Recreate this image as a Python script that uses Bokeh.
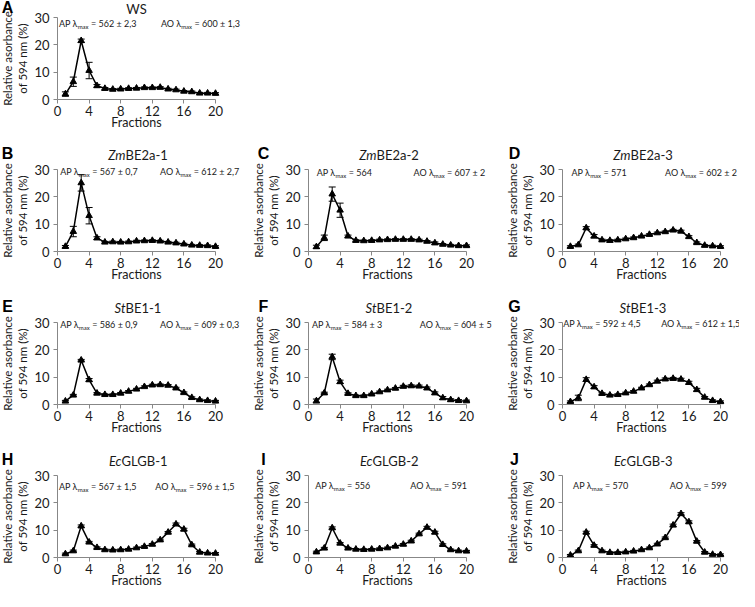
from bokeh.plotting import figure
from bokeh.models import Range1d, Label, Whisker, TeeHead, ColumnDataSource, FixedTicker
from bokeh.layouts import column, row
from bokeh.embed import file_html
from bokeh.resources import INLINE

# ---------------- data ----------------
fractions = list(range(1, 21))
x_ticks = [0, 4, 8, 12, 16, 20]
y_ticks = [0, 10, 20, 30]
y_label = "Relative asorbance\nof 594 nm (%)"
x_label = "Fractions"

ws = [2.0, 6.5, 21.5, 10.6, 5.0, 4.0, 3.7, 3.8, 4.0, 4.1, 4.3, 4.3, 4.4, 3.8, 3.5, 3.0, 2.8, 2.3, 2.3, 2.2]
ws_err = [0.8, 1.7, 0.6, 3.0, 0.5, 0.4, 0.3, 0.3, 0.3, 0.3, 0.3, 0.3, 0.3, 0.3, 0.3, 0.3, 0.3, 0.3, 0.3, 0.3]

zm_be2a_1 = [1.8, 7.3, 25.1, 13.1, 4.9, 3.4, 3.5, 3.4, 3.5, 3.8, 3.9, 4.0, 3.8, 3.4, 3.1, 2.7, 2.3, 2.2, 2.1, 1.8]
zm_be2a_1_err = [0.4, 1.9, 3.0, 3.0, 0.5, 0.3, 0.3, 0.3, 0.3, 0.3, 0.3, 0.3, 0.3, 0.3, 0.3, 0.3, 0.3, 0.3, 0.3, 0.3]

zm_be2a_2 = [1.7, 5.0, 21.0, 15.1, 5.6, 4.0, 3.9, 4.0, 4.2, 4.3, 4.4, 4.4, 4.4, 4.2, 3.7, 3.1, 2.6, 2.3, 2.1, 2.1]
zm_be2a_2_err = [0.6, 1.0, 2.6, 2.6, 0.4, 0.3, 0.3, 0.3, 0.3, 0.3, 0.3, 0.3, 0.3, 0.3, 0.3, 0.4, 0.3, 0.3, 0.3, 0.3]

zm_be2a_3 = [1.8, 2.4, 8.6, 5.6, 4.2, 4.0, 4.2, 4.6, 5.0, 5.6, 6.2, 6.8, 7.2, 7.8, 7.4, 5.4, 3.2, 2.2, 2.0, 1.8]
zm_be2a_3_err = [0.3, 0.3, 0.5, 0.6, 0.3, 0.3, 0.3, 0.3, 0.3, 0.3, 0.3, 0.3, 0.3, 0.3, 0.4, 0.4, 0.3, 0.3, 0.3, 0.3]

st_be1_1 = [1.2, 3.4, 16.2, 9.0, 4.1, 3.6, 3.6, 4.1, 4.8, 5.6, 6.5, 7.1, 7.2, 7.0, 6.0, 4.3, 2.5, 1.7, 1.4, 1.2]
st_be1_1_err = [0.3, 0.3, 0.3, 0.5, 0.3, 0.3, 0.3, 0.3, 0.3, 0.3, 0.3, 0.3, 0.3, 0.3, 0.3, 0.3, 0.3, 0.3, 0.3, 0.3]

st_be1_2 = [1.3, 4.2, 17.4, 8.3, 4.0, 3.2, 3.2, 3.8, 4.6, 5.3, 5.9, 6.6, 6.8, 6.7, 6.0, 4.2, 2.4, 1.7, 1.4, 1.3]
st_be1_2_err = [0.7, 0.3, 1.0, 0.6, 0.3, 0.3, 0.3, 0.3, 0.3, 0.3, 0.3, 0.4, 0.4, 0.4, 0.4, 0.4, 0.5, 0.4, 0.4, 0.3]

st_be1_3 = [1.0, 2.4, 9.1, 6.4, 4.0, 3.4, 3.6, 4.2, 4.8, 6.0, 7.2, 8.5, 9.3, 9.5, 9.2, 8.0, 5.4, 2.6, 1.4, 1.0]
st_be1_3_err = [0.3, 1.0, 0.7, 0.5, 0.3, 0.3, 0.3, 0.3, 0.3, 0.3, 0.3, 0.4, 0.4, 0.4, 0.4, 0.5, 0.5, 0.3, 0.3, 0.3]

ec_glgb_1 = [1.3, 2.4, 11.5, 5.6, 3.6, 2.8, 2.7, 2.8, 3.0, 3.5, 4.0, 4.8, 6.4, 9.2, 12.2, 10.3, 4.6, 1.9, 1.6, 1.5]
ec_glgb_1_err = [0.3, 0.3, 0.4, 0.3, 0.3, 0.3, 0.3, 0.3, 0.3, 0.3, 0.3, 0.3, 0.3, 0.3, 0.4, 0.4, 0.3, 0.3, 0.3, 0.3]

ec_glgb_2 = [2.0, 3.4, 10.8, 5.2, 3.4, 3.0, 2.9, 3.0, 3.2, 3.5, 4.1, 4.8, 6.0, 8.6, 11.0, 9.2, 4.7, 2.8, 2.4, 2.3]
ec_glgb_2_err = [0.3, 0.3, 0.4, 0.3, 0.3, 0.3, 0.3, 0.3, 0.3, 0.3, 0.3, 0.3, 0.3, 0.3, 0.4, 0.4, 0.3, 0.3, 0.3, 0.3]

ec_glgb_3 = [0.8, 2.4, 9.2, 4.4, 2.4, 1.8, 1.8, 2.0, 2.3, 2.8, 3.5, 4.9, 7.2, 11.8, 16.0, 13.0, 5.9, 1.9, 1.1, 1.0]
ec_glgb_3_err = [0.3, 0.3, 0.4, 0.3, 0.3, 0.3, 0.3, 0.3, 0.3, 0.3, 0.3, 0.3, 0.3, 0.4, 0.4, 0.4, 0.3, 0.3, 0.3, 0.3]

panel_letters = ["A", "B", "C", "D", "E", "F", "G", "H", "I", "J"]
title_italic = ["", "Zm", "Zm", "Zm", "St", "St", "St", "Ec", "Ec", "Ec"]
title_plain = ["WS", "BE2a-1", "BE2a-2", "BE2a-3", "BE1-1", "BE1-2", "BE1-3", "GLGB-1", "GLGB-2", "GLGB-3"]
ap_values = ["562 ± 2,3", "567 ± 0,7", "564", "571", "586 ± 0,9", "584 ± 3", "592 ± 4,5", "567 ± 1,5", "556", "570"]
ao_values = ["600 ± 1,3", "612 ± 2,7", "607 ± 2", "602 ± 2", "609 ± 0,3", "604 ± 5", "612 ± 1,5", "596 ± 1,5", "591", "599"]

series = [ws, zm_be2a_1, zm_be2a_2, zm_be2a_3, st_be1_1, st_be1_2, st_be1_3, ec_glgb_1, ec_glgb_2, ec_glgb_3]
errors = [ws_err, zm_be2a_1_err, zm_be2a_2_err, zm_be2a_3_err, st_be1_1_err, st_be1_2_err, st_be1_3_err,
          ec_glgb_1_err, ec_glgb_2_err, ec_glgb_3_err]

# ---------------- layout / style ----------------
FONT = "Lato"
PPX = 7.9            # px per fraction unit
PPY = 82 / 30        # px per % unit
col_specs = [(251, 57), (254, 57), (234, 57)]             # figure width, px from left edge to x = 0
row_specs = [(144, 17), (153, 25), (153, 25), (140, 25)]  # figure height, px from top edge to y = 30
grid = [[0], [1, 2, 3], [4, 5, 6], [7, 8, 9]]
letter_dx = [-50, -50, -45, -48, -50, -45, -48, -50, -45, -48]
head_dy = [9, 15, 15, 15, 15, 15, 15, 15, 15, 15]
title_shift = {"": 0, "Zm": -11, "St": -11, "Ec": -15}
ap_x = [0.25, 0.4, 1.1, 1.2, 0.4, 0.5, 0.15, 0.25, 0.9, 1.4]
ao_x = [13.2, 13.1, 13.4, 13.1, 13.1, 14.2, 12.6, 12.5, 13.0, 13.7]
note_dy = [6, 2, 3, 3, 2, 2, 1, 11, 10, 10]

NOTE_SIZE = 9
SUB_SIZE = 6
SUB_W = 11
SPACE_W = 2.3
LEAD_W = {"AP": 18.2, "AO": 19.4}

AXIS_GREY = "#878787"
TEXT = "#1a1a1a"


def add_lambda(p, x, dy, prefix, val):
    lead_w = LEAD_W[prefix]
    common = dict(x=x, y=30, text_font=FONT, text_color=TEXT, text_baseline="middle")
    p.add_layout(Label(text=prefix + " λ", x_offset=lead_w, y_offset=-dy, text_align="right",
                       text_font_size=f"{NOTE_SIZE}px", **common))
    p.add_layout(Label(text="max", x_offset=lead_w, y_offset=-dy - 2.5, text_align="left",
                       text_font_size=f"{SUB_SIZE}px", **common))
    p.add_layout(Label(text="= " + val, x_offset=lead_w + SUB_W + SPACE_W, y_offset=-dy, text_align="left",
                       text_font_size=f"{NOTE_SIZE}px", **common))


def make_panel(i, col, rw):
    width, left_px = col_specs[col]
    height, top_px = row_specs[rw]
    x0 = -left_px / PPX
    x1 = (width - left_px) / PPX
    y1 = 30 + top_px / PPY
    y0 = 30 - (height - top_px) / PPY
    p = figure(width=width, height=height, output_backend="svg", toolbar_location=None,
               x_range=Range1d(x0, x1), y_range=Range1d(y0, y1), min_border=0,
               background_fill_color="white", border_fill_color="white")
    p.outline_line_color = None
    p.grid.visible = False

    for ax in (p.xaxis, p.yaxis):
        ax.fixed_location = 0
        ax.axis_line_color = AXIS_GREY
        ax.major_tick_line_color = AXIS_GREY
        ax.minor_tick_line_color = None
        ax.major_tick_in = 0
        ax.major_tick_out = 4
        ax.major_label_text_font = FONT
        ax.major_label_text_font_size = "13px"
        ax.major_label_text_color = TEXT
        ax.axis_label_text_font = FONT
        ax.axis_label_text_font_style = "normal"
        ax.axis_label_text_color = TEXT
    p.xaxis.ticker = FixedTicker(ticks=x_ticks)
    p.xaxis.bounds = (0, 20)
    p.xaxis.major_label_standoff = 2
    p.xaxis.axis_label = x_label
    p.xaxis.axis_label_text_font_size = "12.5px"
    p.xaxis.axis_label_standoff = -4
    p.yaxis.ticker = FixedTicker(ticks=y_ticks)
    p.yaxis.bounds = (0, 30)
    p.yaxis.major_label_standoff = 4
    p.yaxis.axis_label = y_label
    p.yaxis.axis_label_text_font_size = "11.5px"
    p.yaxis.axis_label_text_line_height = 1.22
    p.yaxis.axis_label_standoff = 2

    vals = series[i]
    errs = errors[i]
    src = ColumnDataSource(dict(x=fractions, y=vals,
                                upper=[v + e for v, e in zip(vals, errs)],
                                lower=[v - e for v, e in zip(vals, errs)]))
    p.line("x", "y", source=src, line_color="black", line_width=1.5)
    p.add_layout(Whisker(source=src, base="x", upper="upper", lower="lower",
                         line_color="black", line_width=1,
                         upper_head=TeeHead(size=7, line_color="black", line_width=1),
                         lower_head=TeeHead(size=7, line_color="black", line_width=1)))
    p.scatter("x", "y", source=src, marker="triangle", size=6.5, color="black")

    # panel letter
    p.add_layout(Label(x=0, y=30, x_offset=letter_dx[i], y_offset=head_dy[i] + 1, text=panel_letters[i],
                       text_font="Liberation Sans", text_font_style="bold", text_font_size="16px",
                       text_color="black", text_align="center", text_baseline="middle"))
    # title (italic prefix + plain name)
    shift = title_shift[title_italic[i]]
    if title_italic[i]:
        p.add_layout(Label(x=10, y=30, x_offset=shift, y_offset=head_dy[i], text=title_italic[i],
                           text_font=FONT, text_font_style="italic", text_font_size="13px",
                           text_color=TEXT, text_align="right", text_baseline="middle"))
        p.add_layout(Label(x=10, y=30, x_offset=shift, y_offset=head_dy[i], text=title_plain[i],
                           text_font=FONT, text_font_size="13px",
                           text_color=TEXT, text_align="left", text_baseline="middle"))
    else:
        p.add_layout(Label(x=10, y=30, y_offset=head_dy[i], text=title_plain[i],
                           text_font=FONT, text_font_size="13px",
                           text_color=TEXT, text_align="center", text_baseline="middle"))

    add_lambda(p, ap_x[i], note_dy[i], "AP", ap_values[i])
    add_lambda(p, ao_x[i], note_dy[i], "AO", ao_values[i])
    return p


rows = []
for r, idxs in enumerate(grid):
    figs = [make_panel(i, c, r) for c, i in enumerate(idxs)]
    rows.append(row(*figs, spacing=0))

layout = column(*rows, spacing=0)

open("out.html", "w").write(file_html(layout, INLINE))
